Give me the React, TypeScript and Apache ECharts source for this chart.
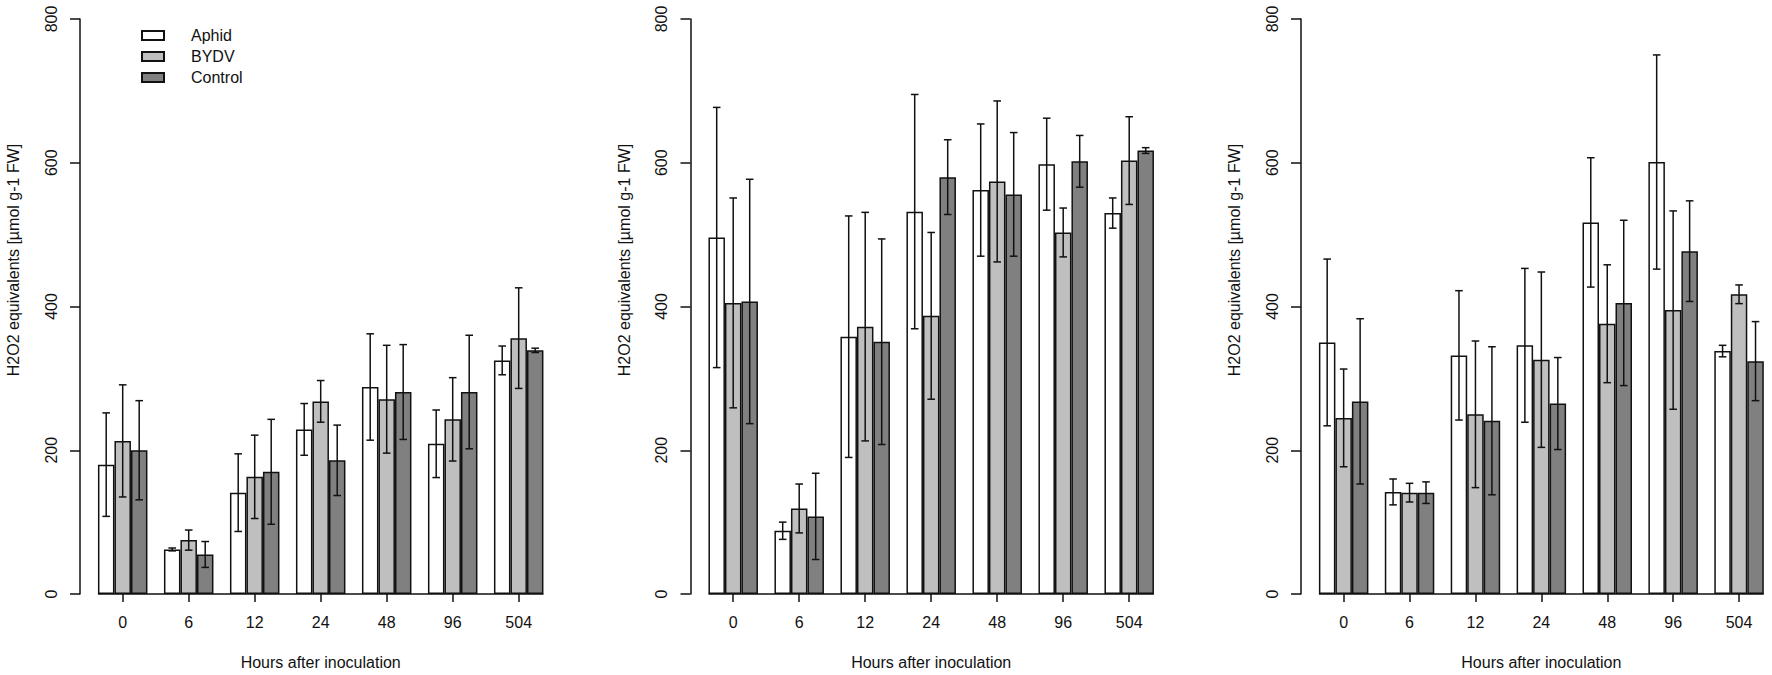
import React, { useEffect, useRef } from "react";
import * as echarts from "echarts";

const categories = ["0", "6", "12", "24", "48", "96", "504"];
const groups = ["Aphid", "BYDV", "Control"];
const yTitle = "H2O2 equivalents [µmol g-1 FW]";
const xTitle = "Hours after inoculation";

// Panel 1
const p1Aphid = [180, 62, 141, 229, 288, 209, 325];
const p1AphidErr = [72, 2, 54, 36, 74, 47, 20];
const p1Bydv = [213, 75, 163, 268, 271, 243, 356];
const p1BydvErr = [78, 14, 58, 29, 75, 58, 70];
const p1Control = [200, 55, 170, 186, 281, 281, 339];
const p1ControlErr = [69, 18, 73, 49, 66, 79, 3];

// Panel 2
const p2Aphid = [496, 88, 358, 532, 562, 598, 530];
const p2AphidErr = [181, 12, 168, 163, 92, 64, 21];
const p2Bydv = [405, 119, 372, 387, 574, 503, 603];
const p2BydvErr = [146, 34, 159, 116, 112, 34, 61];
const p2Control = [407, 108, 351, 580, 556, 602, 617];
const p2ControlErr = [170, 60, 143, 52, 86, 36, 4];

// Panel 3
const p3Aphid = [350, 142, 332, 346, 517, 601, 338];
const p3AphidErr = [116, 18, 90, 107, 90, 149, 8];
const p3Bydv = [245, 141, 250, 326, 376, 395, 417];
const p3BydvErr = [68, 13, 102, 122, 82, 138, 13];
const p3Control = [268, 141, 241, 265, 405, 477, 324];
const p3ControlErr = [115, 15, 103, 64, 115, 70, 55];

const panels = [
  { means: [p1Aphid, p1Bydv, p1Control], errs: [p1AphidErr, p1BydvErr, p1ControlErr] },
  { means: [p2Aphid, p2Bydv, p2Control], errs: [p2AphidErr, p2BydvErr, p2ControlErr] },
  { means: [p3Aphid, p3Bydv, p3Control], errs: [p3AphidErr, p3BydvErr, p3ControlErr] },
];

const colors = ["#ffffff", "#bfbfbf", "#808080"];
const INK = "#111111";
const FONT = "'Liberation Sans', Arial, Helvetica, sans-serif";
const STEP = 610.5;
const GRID_LEFT = 89.7;
const GRID_W = 462;
const GRID_TOP = 19;
const GRID_H = 575;

function buildOption() {
  const grid: any[] = [];
  const xAxis: any[] = [];
  const yAxis: any[] = [];
  const series: any[] = [];
  const graphic: any[] = [];

  panels.forEach((panel, p) => {
    grid.push({ left: GRID_LEFT + p * STEP, width: GRID_W, top: GRID_TOP, height: GRID_H });
    xAxis.push({
      type: "category",
      gridIndex: p,
      data: categories,
      axisLine: { show: false },
      axisTick: { show: true, alignWithLabel: true, length: 8, lineStyle: { color: INK, width: 1.5 } },
      axisLabel: { fontSize: 16, color: INK, margin: 20, fontFamily: FONT },
      name: xTitle,
      nameLocation: "middle",
      nameGap: 60,
      nameTextStyle: { fontSize: 16, color: INK, fontFamily: FONT },
    });
    yAxis.push({
      type: "value",
      gridIndex: p,
      min: 0,
      max: 800,
      interval: 200,
      offset: 9.7,
      axisLine: { show: true, lineStyle: { color: INK, width: 1.5 } },
      axisTick: { show: true, length: 10, lineStyle: { color: INK, width: 1.5 } },
      axisLabel: { rotate: 90, fontSize: 16, color: INK, margin: 21, fontFamily: FONT },
      splitLine: { show: false },
    });

    panel.means.forEach((vals, s) => {
      series.push({
        type: "bar",
        name: groups[s],
        xAxisIndex: p,
        yAxisIndex: p,
        data: vals,
        barWidth: 16.5,
        barGap: "0%",
        itemStyle: { color: colors[s], borderColor: INK, borderWidth: 1.5 },
      });
    });

    const errData: number[][] = [];
    panel.means.forEach((vals, s) => {
      vals.forEach((m, i) => {
        const e = panel.errs[s][i];
        errData.push([i, s, m - e, m + e]);
      });
    });
    series.push({
      type: "custom",
      name: "err" + p,
      xAxisIndex: p,
      yAxisIndex: p,
      z: 5,
      data: errData,
      encode: { x: 0, y: [2, 3] },
      renderItem: (params: any, api: any) => {
        const cat = api.value(0);
        const s = api.value(1);
        const lo = api.coord([cat, api.value(2)]);
        const hi = api.coord([cat, api.value(3)]);
        const unit = api.size([1, 0])[0] / 4;
        const x = lo[0] + (s - 1) * unit;
        const cap = 3.8;
        const style = { stroke: INK, lineWidth: 1.5 };
        return {
          type: "group",
          children: [
            { type: "line", shape: { x1: x, y1: lo[1], x2: x, y2: hi[1] }, style },
            { type: "line", shape: { x1: x - cap, y1: lo[1], x2: x + cap, y2: lo[1] }, style },
            { type: "line", shape: { x1: x - cap, y1: hi[1], x2: x + cap, y2: hi[1] }, style },
          ],
        };
      },
    });

    series.push({
      type: "custom",
      name: "base" + p,
      xAxisIndex: p,
      yAxisIndex: p,
      z: 6,
      data: [[0, categories.length - 1, 0]],
      encode: { x: [0, 1], y: 2 },
      renderItem: (params: any, api: any) => {
        const a = api.coord([api.value(0), api.value(2)]);
        const b = api.coord([api.value(1), api.value(2)]);
        const unit = api.size([1, 0])[0] / 4;
        return {
          type: "line",
          shape: { x1: a[0] - 1.5 * unit, y1: a[1], x2: b[0] + 1.5 * unit, y2: b[1] },
          style: { stroke: INK, lineWidth: 1.5 },
        };
      },
    });

    graphic.push({
      type: "text",
      x: 13.5 + p * STEP,
      y: 260,
      rotation: Math.PI / 2,
      style: {
        text: yTitle,
        fontSize: 16,
        fontFamily: FONT,
        fill: INK,
        align: "center",
        verticalAlign: "middle",
        textAlign: "center",
        textVerticalAlign: "middle",
      },
    });
  });

  return {
    animation: false,
    backgroundColor: "#ffffff",
    textStyle: { fontFamily: FONT },
    grid,
    xAxis,
    yAxis,
    series,
    graphic,
    legend: {
      data: groups,
      orient: "vertical",
      left: 136,
      top: 22.5,
      itemWidth: 22,
      itemHeight: 9,
      itemGap: 5,
      icon: "rect",
      selectedMode: false,
      textStyle: { fontSize: 16, color: INK, fontFamily: FONT, lineHeight: 16, padding: [0, 0, 0, 22] },
    },
  };
}

export default function App() {
  const ref = useRef<HTMLDivElement>(null);
  useEffect(() => {
    if (!ref.current) return;
    const chart = echarts.init(ref.current, undefined, { renderer: "svg" });
    chart.setOption(buildOption() as any);
    return () => chart.dispose();
  }, []);
  return (
    <div
      ref={ref}
      style={{ position: "absolute", left: 0, top: 0, width: 1772, height: 675, background: "#fff" }}
    />
  );
}
